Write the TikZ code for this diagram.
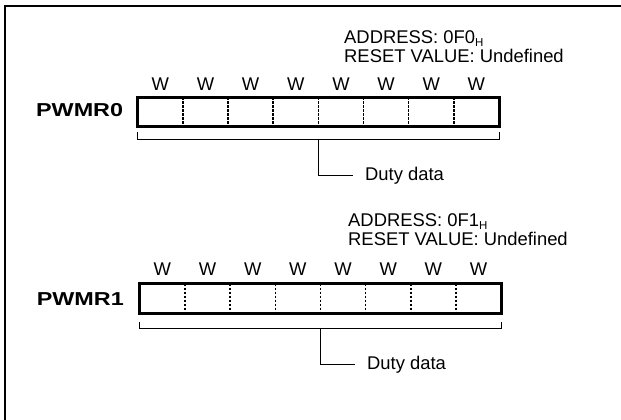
\documentclass[tikz,border=0pt]{standalone}
\usepackage{fontspec}
\setmainfont{Liberation Sans}
\usetikzlibrary{calc}

\newcommand{\regsub}[1]{\raisebox{-2.5pt}{\fontsize{11.5}{12}\selectfont #1}}

\begin{document}
\begin{tikzpicture}[x=1pt,y=-1pt,
    reg/.style={draw, line width=3pt, minimum width=361.3pt,
                minimum height=29.3pt, inner sep=0pt, outer sep=0pt},
    bitline/.style={line width=1.5pt, dash pattern=on 2.5pt off 1.5pt},
    brace/.style={line width=1pt},
    lbl/.style={font=\fontsize{18.4}{22}\selectfont, inner sep=0pt},
    regname/.style={font=\fontsize{18.7}{22}\selectfont\bfseries,
                    inner sep=0pt, anchor=base east},
]

    \useasboundingbox (0,0) rectangle (621,420);
    \draw[line width=2pt] (621,5.7) -- (5,5.7) -- (5,420);

    % PWMR0
    \node[reg] (reg0) at (318.35,111.85) {};
    \node[regname] (name0) at (123.3,116.7) {\scalebox{1.25}[1]{PWMR0}};
    \node[lbl, anchor=base west] (addr0) at (344,43.8) {ADDRESS: 0F0\regsub{H}};
    \node[lbl, anchor=base west] (rst0) at (344,62.3) {RESET VALUE: Undefined};
    \foreach \i in {1,...,7}
        \draw[bitline] ($(reg0.north west)!\i/8!(reg0.north east)$)
                    -- ($(reg0.south west)!\i/8!(reg0.south east)$);
    \foreach \i [evaluate=\i as \f using (\i-0.5)/8] in {1,...,8}
        \node[lbl, anchor=base] (w0\i)
            at ($(reg0.north west)!\f!(reg0.north east)+(0,-6.5)$) {W};
    \coordinate (b0) at ($(reg0.south)+(0,13.3)$);
    \draw[brace] ($(reg0.south west)+(0,5.2)$) -- ($(reg0.south west)+(0,13.3)$)
        -- ($(reg0.south east)+(0,13.3)$) -- ($(reg0.south east)+(0,5.2)$);
    \node[lbl, anchor=base west] (duty0) at (365,180) {Duty data};
    \draw[brace, shorten >=12pt] (b0) |- (duty0.west);

    % PWMR1
    \node[reg] (reg1) at (320.45,298.35) {};
    \node[regname] (name1) at (124,305) {\scalebox{1.25}[1]{PWMR1}};
    \node[lbl, anchor=base west] (addr1) at (348,226.8) {ADDRESS: 0F1\regsub{H}};
    \node[lbl, anchor=base west] (rst1) at (348,245.3) {RESET VALUE: Undefined};
    \foreach \i in {1,...,7}
        \draw[bitline] ($(reg1.north west)!\i/8!(reg1.north east)$)
                    -- ($(reg1.south west)!\i/8!(reg1.south east)$);
    \foreach \i [evaluate=\i as \f using (\i-0.5)/8] in {1,...,8}
        \node[lbl, anchor=base] (w1\i)
            at ($(reg1.north west)!\f!(reg1.north east)+(0,-8.5)$) {W};
    \coordinate (b1) at ($(reg1.south)+(0,15.5)$);
    \draw[brace] ($(reg1.south west)+(0,8.5)$) -- ($(reg1.south west)+(0,15.5)$)
        -- ($(reg1.south east)+(0,15.5)$) -- ($(reg1.south east)+(0,8.5)$);
    \node[lbl, anchor=base west] (duty1) at (367,369) {Duty data};
    \draw[brace, shorten >=12pt] (b1) |- (duty1.west);

\end{tikzpicture}
\end{document}
